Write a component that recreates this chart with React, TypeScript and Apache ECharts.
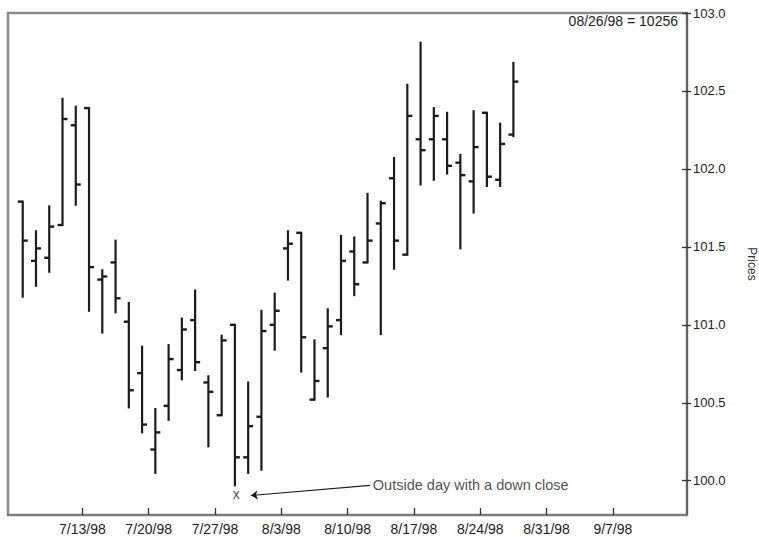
import React, { useEffect, useRef } from "react";
import * as echarts from "echarts";

// Trading days (one bar each)
const dates = [
  "7/6/98", "7/7/98", "7/8/98", "7/9/98", "7/10/98",
  "7/13/98", "7/14/98", "7/15/98", "7/16/98", "7/17/98",
  "7/20/98", "7/21/98", "7/22/98", "7/23/98", "7/24/98",
  "7/27/98", "7/28/98", "7/29/98", "7/30/98", "7/31/98",
  "8/3/98", "8/4/98", "8/5/98", "8/6/98", "8/7/98",
  "8/10/98", "8/11/98", "8/12/98", "8/13/98", "8/14/98",
  "8/17/98", "8/18/98", "8/19/98", "8/20/98", "8/21/98",
  "8/24/98", "8/25/98", "8/26/98",
];
const opens = [
  101.79, 101.41, 101.43, 101.64, 102.28,
  102.39, 101.29, 101.40, 101.02, 100.69,
  100.20, 100.48, 100.71, 101.03, 100.63,
  100.42, 101.00, 100.15, 100.41, 101.00,
  101.49, 101.59, 100.52, 100.85, 101.03,
  101.47, 101.40, 101.65, 101.94, 101.45,
  102.19, 102.19, 102.19, 102.04, 101.92,
  102.36, 101.93, 102.22,
];
const highs = [
  101.79, 101.60, 101.76, 102.45, 102.40,
  102.39, 101.35, 101.54, 101.14, 100.86,
  100.46, 100.87, 101.04, 101.22, 100.67,
  100.93, 101.00, 100.63, 101.09, 101.20,
  101.60, 101.59, 100.90, 101.10, 101.57,
  101.56, 101.84, 101.79, 102.07, 102.54,
  102.81, 102.39, 102.36, 102.09, 102.37,
  102.36, 102.29, 102.68,
];
const lows = [
  101.18, 101.25, 101.34, 101.64, 101.77,
  101.09, 100.95, 101.08, 100.47, 100.31,
  100.05, 100.39, 100.65, 100.71, 100.22,
  100.42, 99.97, 100.05, 100.07, 100.84,
  101.29, 100.70, 100.52, 100.54, 100.94,
  101.19, 101.40, 100.94, 101.36, 101.45,
  101.90, 101.93, 101.97, 101.49, 101.72,
  101.89, 101.89, 102.21,
];
const closes = [
  101.54, 101.49, 101.63, 102.32, 101.90,
  101.37, 101.31, 101.17, 100.58, 100.36,
  100.31, 100.78, 100.97, 100.76, 100.57,
  100.90, 100.15, 100.35, 100.96, 101.09,
  101.52, 100.92, 100.64, 100.99, 101.41,
  101.26, 101.54, 101.78, 101.54, 102.34,
  102.12, 102.34, 102.02, 101.96, 102.14,
  101.95, 102.16, 102.56,
];

// Weekly date ticks (placed at the week boundaries)
const weekLabels = [
  "7/13/98", "7/20/98", "7/27/98", "8/3/98", "8/10/98",
  "8/17/98", "8/24/98", "8/31/98", "9/7/98",
];
const priceTicks = [100.0, 100.5, 101.0, 101.5, 102.0, 102.5, 103.0];

const lastLabel = "08/26/98 = 10256";
const noteText = "Outside day with a down close";
const outsideDayIndex = 16;

const FONT = "'Liberation Sans', Arial, sans-serif";
const INK = "#1c1c1c";

export default function App() {
  const ref = useRef<HTMLDivElement>(null);

  useEffect(() => {
    document.body.style.margin = "0";
    const chart = echarts.init(ref.current!, undefined, { renderer: "svg" });

    const ohlc = dates.map((_, i) => [i, opens[i], highs[i], lows[i], closes[i]]);
    const tickPos = weekLabels.map((_, k) => 4.5 + 5 * k);
    const labelByPos: Record<string, string> = {};
    tickPos.forEach((p, k) => (labelByPos[String(p)] = weekLabels[k]));

    const yMin = 99.78;
    const yMax = 103.0;

    chart.setOption({
      animation: false,
      backgroundColor: "#ffffff",
      grid: {
        left: 8,
        top: 13,
        right: 72,
        bottom: 22,
        containLabel: false,
        outerBoundsMode: "none",
        show: true,
        borderColor: "#8a8a8a",
        borderWidth: 2.5,
        backgroundColor: "transparent",
      },
      xAxis: {
        type: "value",
        min: -1.11,
        max: 50.09,
        position: "bottom",
        splitLine: { show: false },
        axisLine: { show: true, onZero: false, lineStyle: { color: "#7a7a7a", width: 2 } },
        axisTick: {
          show: true,
          inside: true,
          length: 7,
          customValues: tickPos,
          lineStyle: { color: "#333", width: 1.3 },
        },
        axisLabel: {
          show: true,
          customValues: tickPos,
          formatter: (v: number) => labelByPos[String(v)] ?? "",
          color: "#222",
          fontFamily: FONT,
          fontSize: 14,
          margin: 7,
        },
      },
      yAxis: [
        {
          type: "value",
          position: "right",
          min: yMin,
          max: yMax,
          splitLine: { show: false },
          axisLine: { show: true, onZero: false, lineStyle: { color: "#555", width: 1.5 } },
          axisTick: {
            show: true,
            inside: false,
            length: 4,
            customValues: priceTicks,
            lineStyle: { color: "#333", width: 1.3 },
          },
          axisLabel: {
            show: true,
            customValues: priceTicks,
            formatter: (v: number) => v.toFixed(1),
            color: "#222",
            fontFamily: FONT,
            fontSize: 13,
            margin: 6,
          },
          name: "Prices",
          nameLocation: "middle",
          nameRotate: -90,
          nameGap: 59,
          nameTextStyle: { color: "#333", fontFamily: FONT, fontSize: 12 },
        },
        {
          type: "value",
          position: "right",
          offset: 0,
          min: yMin,
          max: yMax,
          splitLine: { show: false },
          axisLine: { show: false, onZero: false },
          axisTick: {
            show: true,
            inside: true,
            length: 5,
            customValues: priceTicks,
            lineStyle: { color: "#333", width: 1.3 },
          },
          axisLabel: { show: false },
        },
      ],
      series: [
        {
          type: "custom",
          name: "OHLC",
          xAxisIndex: 0,
          yAxisIndex: 0,
          data: ohlc,
          encode: { x: 0, y: [1, 2, 3, 4] },
          renderItem: (params: any, api: any) => {
            const x = api.value(0);
            const pO = api.coord([x, api.value(1)]);
            const pH = api.coord([x, api.value(2)]);
            const pL = api.coord([x, api.value(3)]);
            const pC = api.coord([x, api.value(4)]);
            const st = { stroke: INK, lineWidth: 2.2 };
            const tk = { stroke: INK, lineWidth: 2.4 };
            return {
              type: "group",
              children: [
                { type: "line", shape: { x1: pH[0], y1: pH[1] - 1, x2: pL[0], y2: pL[1] + 1 }, style: st },
                { type: "line", shape: { x1: pO[0] - 5, y1: pO[1], x2: pO[0], y2: pO[1] }, style: tk },
                { type: "line", shape: { x1: pC[0], y1: pC[1], x2: pC[0] + 5, y2: pC[1] }, style: tk },
              ],
            };
          },
        },
        {
          type: "lines",
          coordinateSystem: "cartesian2d",
          xAxisIndex: 0,
          yAxisIndex: 0,
          silent: true,
          symbol: ["none", "arrow"],
          symbolSize: 7,
          lineStyle: { color: INK, width: 1.2, curveness: 0, opacity: 1 },
          data: [{ coords: [[26.2, 99.97], [17.2, 99.905]] }],
        },
        {
          type: "scatter",
          xAxisIndex: 0,
          yAxisIndex: 0,
          silent: true,
          symbolSize: 0,
          data: [
            {
              value: [outsideDayIndex + 0.1, 99.915],
              label: { show: true, formatter: "x", position: "inside", fontSize: 14, color: INK, fontFamily: FONT },
            },
            {
              value: [26.4, 99.975],
              label: { show: true, formatter: noteText, position: "right", distance: 0, fontSize: 14.5, color: "#222", fontFamily: FONT },
            },
          ],
        },
      ],
      graphic: [
        {
          type: "text",
          x: 678,
          y: 21,
          style: {
            text: lastLabel,
            align: "right",
            verticalAlign: "middle",
            fill: "#222",
            fontFamily: FONT,
            fontSize: 14,
          },
        },
      ],
    });

    return () => chart.dispose();
  }, []);

  return (
    <div
      ref={ref}
      style={{ position: "fixed", left: 0, top: 0, width: 759, height: 537, background: "#fff" }}
    />
  );
}
